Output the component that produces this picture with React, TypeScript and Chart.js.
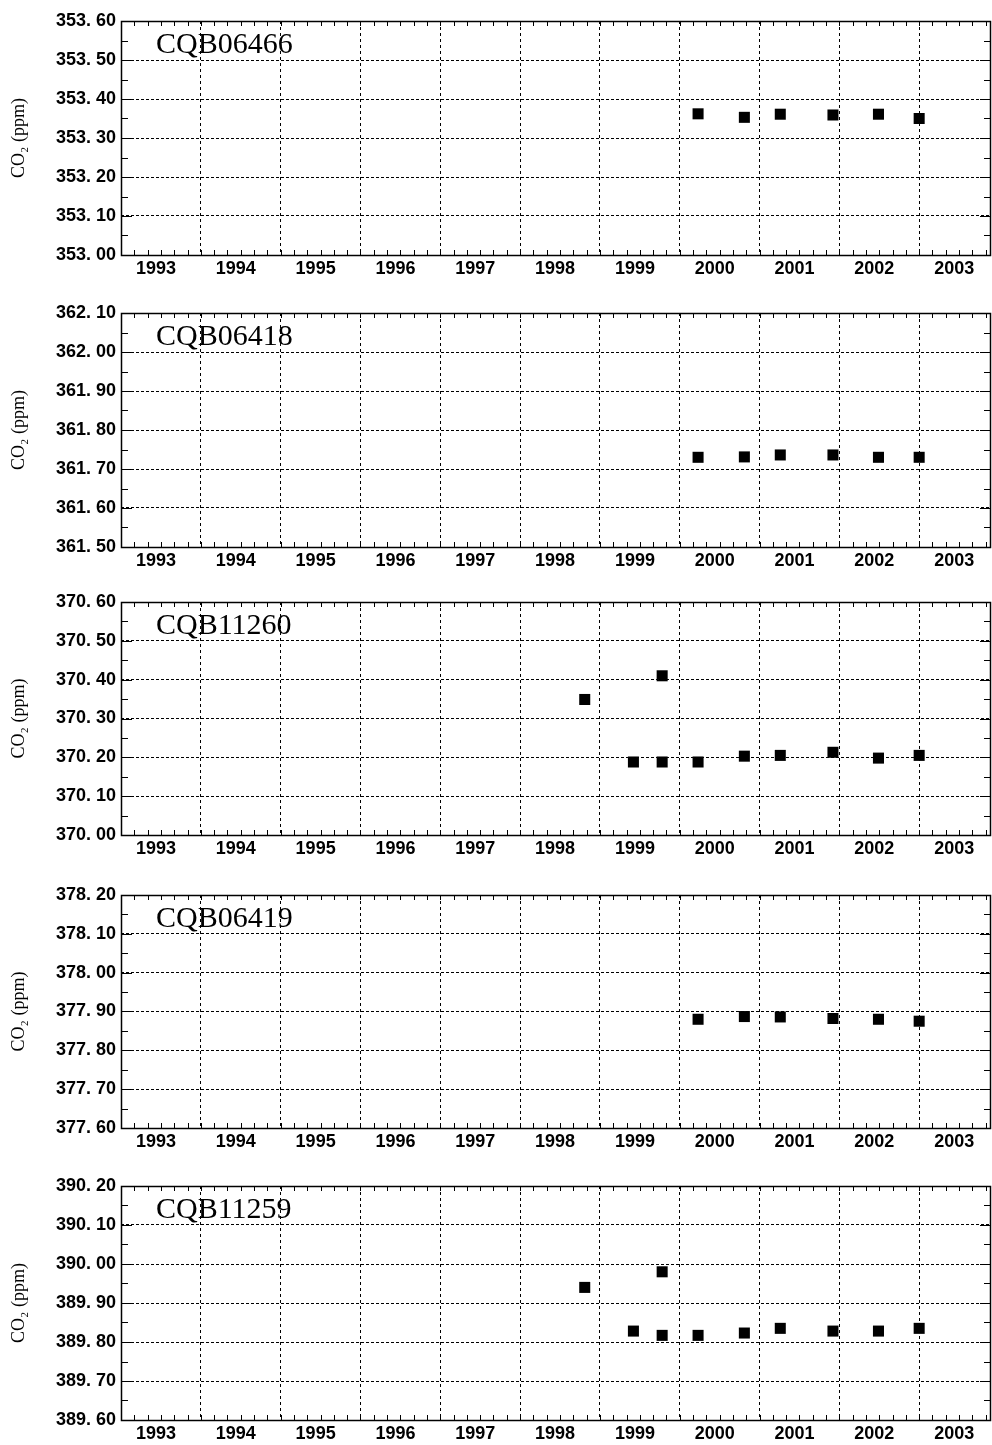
import React, { useEffect, useRef } from 'react';
import { Chart, registerables } from 'chart.js';

Chart.register(...registerables);

// ---------- data ----------
const panelNames = ['CQB06466', 'CQB06418', 'CQB11260', 'CQB06419', 'CQB11259'];
const yMins = [353.0, 361.5, 370.0, 377.6, 389.6];
const yMaxs = [353.6, 362.1, 370.6, 378.2, 390.2];
const years = [1993, 1994, 1995, 1996, 1997, 1998, 1999, 2000, 2001, 2002, 2003];

const datesLate = [2000.23, 2000.81, 2001.26, 2001.92, 2002.49, 2003.0];
const datesFull = [1998.81, 1999.42, 1999.78, 1999.78, 2000.23, 2000.81, 2001.26, 2001.92, 2002.49, 2003.0];

const co2_CQB06466 = [353.362, 353.353, 353.361, 353.359, 353.361, 353.35];
const co2_CQB06418 = [361.73, 361.731, 361.736, 361.736, 361.73, 361.73];
const co2_CQB11260 = [370.349, 370.188, 370.41, 370.188, 370.188, 370.203, 370.205, 370.213, 370.198, 370.205];
const co2_CQB06419 = [377.88, 377.887, 377.886, 377.882, 377.88, 377.875];
const co2_CQB11259 = [389.94, 389.828, 389.98, 389.817, 389.817, 389.823, 389.835, 389.828, 389.828, 389.835];

const panelDates = [datesLate, datesLate, datesFull, datesLate, datesFull];
const panelValues = [co2_CQB06466, co2_CQB06418, co2_CQB11260, co2_CQB06419, co2_CQB11259];

// ---------- layout ----------
const CANVAS_W = 992;
const PAD_TOP = 20;
const X_AXIS_H = 30;
const Y_AXIS_W = 121;
const panelTops = [21, 313, 602, 895, 1186];
const plotHeights = [234, 234, 233, 233, 234];

const tickFont = { family: '"Liberation Sans", Arial, sans-serif', size: 18, weight: 'bold' as const };

const framePlugin = {
  id: 'frame',
  afterDraw(chart: any, _args: any, opts: any) {
    const { ctx, chartArea } = chart;
    const { left, right, top, bottom } = chartArea;
    const xs = chart.scales.x;
    const ys = chart.scales.y;
    ctx.save();
    ctx.setLineDash([]);
    ctx.strokeStyle = '#000';
    ctx.lineWidth = 1;
    ctx.beginPath();
    for (let i = 0; ; i++) {
      const v = xs.min + i / 6;
      if (v > xs.max + 1e-9) break;
      const p = Math.round(xs.getPixelForValue(v)) + 0.5;
      ctx.moveTo(p, bottom);
      ctx.lineTo(p, bottom - 5);
      ctx.moveTo(p, top);
      ctx.lineTo(p, top + 5);
    }
    const n = Math.round((ys.max - ys.min) / 0.05);
    for (let k = 1; k < n; k++) {
      const v = ys.min + k * 0.05;
      const p = Math.round(ys.getPixelForValue(v)) + 0.5;
      const len = k % 2 === 0 ? 11 : 7;
      ctx.moveTo(left, p);
      ctx.lineTo(left + len, p);
      ctx.moveTo(right, p);
      ctx.lineTo(right - len, p);
    }
    ctx.stroke();
    ctx.lineWidth = 1.5;
    ctx.strokeRect(left + 0.5, top + 0.5, right - left - 1, bottom - top);
    ctx.fillStyle = '#000';
    ctx.font = '30px "Liberation Serif", "Times New Roman", serif';
    ctx.textBaseline = 'alphabetic';
    ctx.textAlign = 'left';
    ctx.fillText(opts.name, left + 35, top + 32);
    ctx.restore();
  },
};

function Panel({ index }: { index: number }) {
  const ref = useRef<HTMLCanvasElement | null>(null);
  const h = PAD_TOP + plotHeights[index] + X_AXIS_H;

  useEffect(() => {
    if (!ref.current) return;
    const yMin = yMins[index];
    const yMax = yMaxs[index];
    const yTickVals: number[] = [];
    for (let k = 0; k <= Math.round((yMax - yMin) / 0.1); k++) {
      yTickVals.push(Math.round((yMin + k * 0.1) * 100) / 100);
    }
    const pts = panelDates[index].map((d, i) => ({ x: d, y: panelValues[index][i] }));
    const chart = new Chart(ref.current, {
      type: 'scatter',
      data: {
        datasets: [
          {
            data: pts,
            pointStyle: 'rect',
            pointRadius: 7.8,
            pointHoverRadius: 7.8,
            backgroundColor: '#000',
            borderColor: '#000',
            borderWidth: 0,
            showLine: false,
          },
        ],
      },
      options: {
        animation: false,
        responsive: false,
        maintainAspectRatio: false,
        layout: { autoPadding: false, padding: { top: PAD_TOP, bottom: 0, left: 0, right: 1 } },
        plugins: {
          legend: { display: false },
          tooltip: { enabled: false },
          frame: { name: panelNames[index] },
        } as any,
        scales: {
          x: {
            type: 'linear',
            min: 1993,
            max: 2003.9,
            afterBuildTicks: (s: any) => {
              s.ticks = years.map((v) => ({ value: v }));
            },
            afterFit: (s: any) => {
              s.height = X_AXIS_H;
              s.paddingLeft = 0;
              s.paddingRight = 0;
            },
            ticks: {
              autoSkip: false,
              maxRotation: 0,
              minRotation: 0,
              labelOffset: 35,
              padding: 3,
              color: '#000',
              font: tickFont,
              callback: (v: any) => String(v),
            },
            grid: { drawTicks: false, color: '#000', lineWidth: 1 },
            border: { display: false, dash: [3, 3] },
          },
          y: {
            type: 'linear',
            min: yMin,
            max: yMax,
            afterBuildTicks: (s: any) => {
              s.ticks = yTickVals.map((v) => ({ value: v }));
            },
            afterFit: (s: any) => {
              s.width = Y_AXIS_W;
            },
            ticks: {
              padding: 5,
              color: '#000',
              font: tickFont,
              callback: (v: any) => Number(v).toFixed(2).replace('.', '. '),
            },
            grid: { drawTicks: false, color: '#000', lineWidth: 1 },
            border: { display: false, dash: [3, 2] },
            title: {
              display: true,
              text: 'CO₂ (ppm)',
              color: '#000',
              padding: { top: 8, bottom: 0 },
              font: { family: '"Liberation Serif", "Times New Roman", serif', size: 18 },
            },
          },
        },
      },
      plugins: [framePlugin],
    });
    return () => chart.destroy();
  }, [index]);

  return (
    <canvas
      ref={ref}
      width={CANVAS_W}
      height={h}
      style={{
        position: 'absolute',
        left: 0,
        top: panelTops[index] - PAD_TOP,
        width: CANVAS_W,
        height: h,
      }}
    />
  );
}

export default function App() {
  return (
    <div
      style={{
        position: 'absolute',
        left: 0,
        top: 0,
        width: 992,
        height: 1445,
        background: '#fff',
        overflow: 'hidden',
      }}
    >
      {panelNames.map((_, i) => (
        <Panel key={i} index={i} />
      ))}
    </div>
  );
}
